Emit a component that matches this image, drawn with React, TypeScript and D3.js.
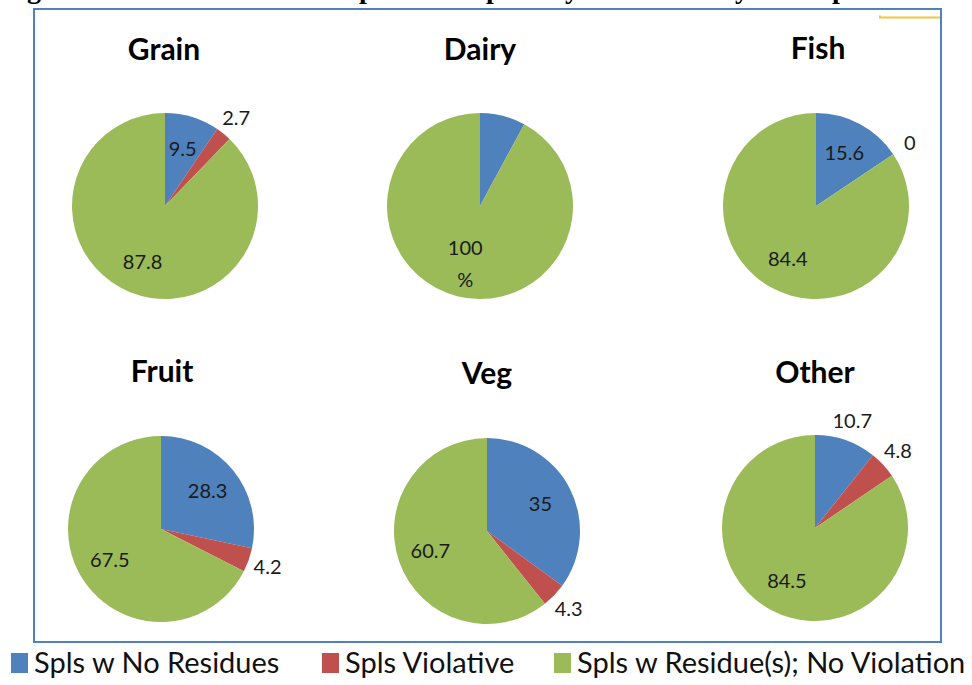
import React from 'react';
import * as d3 from 'd3';

// commodity groups and the share of samples in each result class (%)
const categories = ['Grain', 'Dairy', 'Fish', 'Fruit', 'Veg', 'Other'];
const noResidues = [9.5, 7.9, 15.6, 28.3, 35, 10.7];
const violative = [2.7, 0, 0, 4.2, 4.3, 4.8];
const residueNoViolation = [87.8, 92.1, 84.4, 67.5, 60.7, 84.5];

// data labels as printed on the slices
const noResiduesLabels = ['9.5', '', '15.6', '28.3', '35', '10.7'];
const violativeLabels = ['2.7', '', '0', '4.2', '4.3', '4.8'];
const residueLabels = ['87.8', '100\n%', '84.4', '67.5', '60.7', '84.5'];
// which labels sit outside the pie
const noResiduesOutside = [false, false, false, false, false, true];
const violativeOutside = [true, true, true, true, true, true];

const seriesNames = ['Spls w No Residues', 'Spls Violative', 'Spls w Residue(s); No Violation'];
const colors = ['#4F81BD', '#C0504D', '#9BBB59'];

const W = 972;
const H = 685;
const R = 93;
// panel centres (layout)
const centers: [number, number][] = [
  [165, 206], [480, 206], [816, 206],
  [161, 529], [487, 531], [815, 528],
];
const titlePos: [number, number][] = [
  [164, 60], [480, 60], [818, 59],
  [162, 382], [487, 384], [815, 383],
];
const legendX = [11, 322, 554];

const labelFont = 'Lato, "Open Sans", Calibri, sans-serif';

export default function App() {
  const pie = d3.pie<number>().sort(null).value(d => d);
  const arc = d3.arc<d3.PieArcDatum<number>>().innerRadius(0).outerRadius(R);
  const inArc = d3.arc<d3.PieArcDatum<number>>().innerRadius(60).outerRadius(60);
  const outArc = d3.arc<d3.PieArcDatum<number>>().innerRadius(113).outerRadius(113);

  return (
    <div style={{ position: 'absolute', left: 0, top: 0, width: W, height: H, background: '#fff' }}>
      <svg width={W} height={H} style={{ display: 'block' }}>
        <rect width={W} height={H} fill="#fff" />
        {/* cropped title: only descenders remain visible */}
        <text
          y={-2}
          fontFamily='"Liberation Serif", "Times New Roman", serif'
          fontWeight="bold"
          fontSize={28}
          fill="#000"
        >
          <tspan x={27}>g</tspan>
          <tspan x={359}>p</tspan>
          <tspan x={486}>p</tspan>
          <tspan x={565}>y</tspan>
          <tspan x={735}>y</tspan>
          <tspan x={832}>p</tspan>
        </text>

        <rect x={34} y={9} width={907} height={633} fill="none" stroke="#4F81BD" strokeWidth={2} />
        <path d="M880,15.5V17.5H940" fill="none" stroke="#F4C542" strokeWidth={2} />

        {categories.map((cat, i) => {
          const values = [noResidues[i], violative[i], residueNoViolation[i]];
          const labels = [noResiduesLabels[i], violativeLabels[i], residueLabels[i]];
          const outside = [noResiduesOutside[i], violativeOutside[i], false];
          const arcs = pie(values);
          const [cx, cy] = centers[i];
          return (
            <g key={cat}>
              <text
                x={titlePos[i][0]}
                y={titlePos[i][1]}
                textAnchor="middle"
                fontFamily={labelFont}
                fontWeight="bold"
                fontSize={30}
                fill="#000"
              >
                {cat}
              </text>
              <g transform={`translate(${cx},${cy})`}>
                {arcs.map((a, j) => (
                  a.value > 0 ? <path key={j} d={arc(a) || ''} fill={colors[j]} /> : null
                ))}
                {arcs.map((a, j) => {
                  if (!labels[j]) return null;
                  const [lx, ly] = (outside[j] ? outArc : inArc).centroid(a);
                  const lines = labels[j].split('\n');
                  return (
                    <text
                      key={'l' + j}
                      x={lx}
                      y={ly}
                      textAnchor="middle"
                      fontFamily={labelFont}
                      fontSize={20}
                      fill="#1a1a1a"
                    >
                      {lines.map((t, k) => (
                        <tspan
                          key={k}
                          x={lx}
                          dy={k === 0 ? `${0.35 - (lines.length - 1) * 0.8}em` : '1.6em'}
                        >
                          {t}
                        </tspan>
                      ))}
                    </text>
                  );
                })}
              </g>
            </g>
          );
        })}

        {seriesNames.map((name, i) => (
          <g key={name} transform={`translate(${legendX[i]},0)`}>
            <rect x={0} y={653} width={17} height={20} fill={colors[i]} />
            <text x={23} y={673} fontFamily={labelFont} fontSize={29} fill="#111">
              {name}
            </text>
          </g>
        ))}
      </svg>
    </div>
  );
}
